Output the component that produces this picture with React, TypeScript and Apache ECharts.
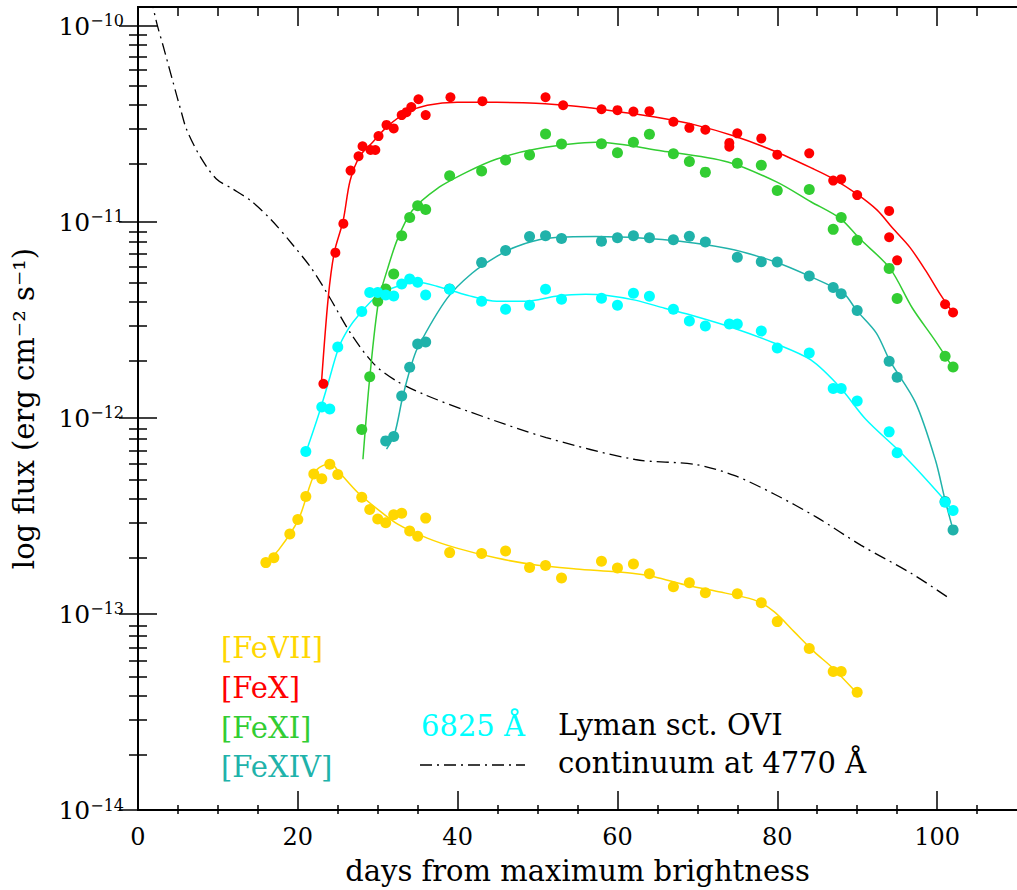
import React, { useEffect, useRef } from "react";
import * as echarts from "echarts";

const FONT = "'DejaVu Serif', 'Liberation Serif', serif";

// ---- data: days from maximum, log10 of flux (erg cm^-2 s^-1) ----
const feVIIDays = [16, 17, 19, 20, 21, 22, 23, 24, 25, 28, 29, 30, 31, 32, 33, 34, 35, 36, 39, 43, 46, 49, 51, 53, 58, 60, 62, 64, 67, 69, 71, 75, 78, 80, 84, 87, 88, 90];
const feVIILog = [-12.738, -12.713, -12.592, -12.518, -12.401, -12.286, -12.31, -12.236, -12.288, -12.405, -12.467, -12.515, -12.535, -12.494, -12.486, -12.577, -12.603, -12.511, -12.687, -12.692, -12.679, -12.763, -12.753, -12.816, -12.731, -12.765, -12.745, -12.795, -12.861, -12.841, -12.892, -12.897, -12.943, -13.039, -13.176, -13.293, -13.293, -13.399];
const feVIIFitDays = [16, 17.6, 20.1, 22.3, 24.1, 25.1, 27.5, 30, 32.5, 36.2, 39.9, 44.9, 49.8, 54.8, 59.8, 62.3, 64.7, 68.4, 72.1, 77.1, 79.6, 82.1, 84.6, 87, 90];
const feVIIFitLog = [-12.735, -12.673, -12.516, -12.268, -12.233, -12.273, -12.38, -12.466, -12.542, -12.613, -12.664, -12.715, -12.75, -12.77, -12.785, -12.795, -12.811, -12.851, -12.882, -12.928, -12.988, -13.09, -13.192, -13.278, -13.405];

const feXDays = [23.2, 24.7, 25.7, 26.6, 27.6, 28.1, 29.1, 29.7, 30.1, 31.1, 32.0, 33.0, 33.6, 34.2, 35.1, 36.0, 39.1, 43.1, 51.0, 53.2, 58, 60, 62, 64, 67, 69, 71, 74, 74, 75, 78, 80, 84, 87, 88, 90, 94, 94, 95, 101, 102];
const feXLog = [-11.826, -11.157, -11.009, -10.738, -10.665, -10.614, -10.633, -10.633, -10.562, -10.505, -10.523, -10.455, -10.44, -10.414, -10.374, -10.455, -10.364, -10.384, -10.364, -10.405, -10.425, -10.43, -10.437, -10.435, -10.489, -10.52, -10.53, -10.597, -10.616, -10.548, -10.574, -10.657, -10.65, -10.789, -10.782, -10.863, -10.944, -11.078, -11.196, -11.42, -11.462];
const feXFitDays = [22.95, 23.8, 24.56, 25.67, 26.54, 27.78, 29.39, 31.25, 33.73, 36.21, 39.93, 44.89, 49.8, 54.8, 59.7, 64.7, 69.7, 74.6, 79.6, 84.5, 87.0, 89.9, 92.5, 94.4, 96.6, 98.6, 100.4, 102.1];
const feXFitLog = [-11.826, -11.389, -11.156, -10.994, -10.79, -10.663, -10.592, -10.511, -10.44, -10.405, -10.39, -10.39, -10.394, -10.41, -10.435, -10.465, -10.505, -10.562, -10.638, -10.729, -10.78, -10.856, -10.94, -11.03, -11.13, -11.25, -11.37, -11.471];

const feXIDays = [28, 29, 30, 31, 32, 33, 34, 35, 36, 39, 43, 46, 49, 51, 53, 58, 60, 62, 64, 67, 69, 71, 75, 78, 80, 84, 87, 88, 90, 94, 95, 101, 102];
const feXILog = [-12.059, -11.79, -11.405, -11.342, -11.266, -11.07, -10.978, -10.917, -10.937, -10.765, -10.74, -10.684, -10.658, -10.552, -10.603, -10.601, -10.647, -10.594, -10.553, -10.652, -10.692, -10.746, -10.701, -10.711, -10.84, -10.835, -11.038, -10.977, -11.093, -11.237, -11.391, -11.685, -11.74];
const feXIFitDays = [28.15, 29.0, 30.1, 31.25, 32.5, 34.3, 37.4, 41.2, 44.9, 49.8, 57.3, 65.6, 73.8, 79.9, 84.2, 87.9, 90.3, 94.1, 96.9, 99.8, 102.0];
const feXIFitLog = [-12.211, -11.795, -11.405, -11.237, -11.085, -10.943, -10.831, -10.745, -10.679, -10.628, -10.594, -10.638, -10.694, -10.796, -10.897, -10.983, -11.085, -11.237, -11.439, -11.608, -11.745];

const feXIVDays = [31, 32, 33, 34, 35, 36, 39, 43, 46, 49, 51, 53, 58, 60, 62, 64, 67, 69, 71, 75, 78, 80, 84, 87, 88, 90, 94, 95, 101, 102];
const feXIVLog = [-12.117, -12.095, -11.888, -11.741, -11.623, -11.613, -11.342, -11.207, -11.146, -11.075, -11.07, -11.085, -11.098, -11.081, -11.071, -11.081, -11.091, -11.073, -11.102, -11.18, -11.203, -11.205, -11.276, -11.334, -11.366, -11.452, -11.711, -11.792, -12.426, -12.571];
const feXIVFitDays = [31.1, 32.1, 33.1, 34.1, 35.0, 38.7, 41.8, 44.9, 47.4, 51.1, 57.3, 65.6, 73.8, 79.6, 84.1, 88.3, 89.9, 92.4, 94.1, 97.3, 99.8, 101.0, 102.0];
const feXIVFitLog = [-12.159, -12.083, -11.897, -11.745, -11.642, -11.389, -11.262, -11.176, -11.125, -11.085, -11.075, -11.09, -11.136, -11.202, -11.278, -11.364, -11.45, -11.567, -11.709, -11.922, -12.216, -12.419, -12.571];

const ly6825Days = [21, 23, 24, 25, 28, 29, 30, 31, 32, 33, 34, 35, 36, 39, 43, 46, 49, 51, 53, 58, 60, 62, 64, 67, 69, 71, 74, 75, 78, 80, 84, 87, 88, 90, 94, 95, 101, 102];
const ly6825Log = [-12.171, -11.944, -11.954, -11.638, -11.457, -11.36, -11.36, -11.373, -11.378, -11.317, -11.291, -11.308, -11.373, -11.344, -11.405, -11.445, -11.425, -11.344, -11.394, -11.389, -11.425, -11.364, -11.379, -11.445, -11.506, -11.531, -11.521, -11.521, -11.557, -11.643, -11.669, -11.85, -11.85, -11.914, -12.071, -12.178, -12.43, -12.472];
const ly6825FitDays = [21.1, 22.6, 23.8, 25.1, 26.3, 27.5, 30.0, 32.5, 35.0, 37.4, 41.2, 44.9, 48.6, 52.3, 56.0, 58.5, 62.2, 65.9, 69.7, 74.6, 79.6, 84.2, 87.9, 91.1, 95.7, 100.3, 102.1];
const ly6825FitLog = [-12.166, -11.984, -11.822, -11.643, -11.547, -11.481, -11.374, -11.328, -11.308, -11.328, -11.374, -11.405, -11.405, -11.379, -11.369, -11.374, -11.399, -11.44, -11.481, -11.542, -11.618, -11.704, -11.846, -12.008, -12.186, -12.389, -12.481];

const contDays = [1.6, 2.34, 3.16, 4.4, 5.44, 6.06, 7.71, 9.78, 11.83, 14.28, 16.75, 19.23, 21.71, 23.82, 26.67, 29.6, 32.49, 35.8, 41.17, 51.08, 62.23, 69.7, 74.6, 79.6, 84.9, 90.5, 96.9, 101.6];
const contLog = [-9.85, -9.985, -10.104, -10.289, -10.442, -10.526, -10.662, -10.78, -10.831, -10.897, -10.993, -11.11, -11.237, -11.374, -11.572, -11.728, -11.815, -11.88, -11.964, -12.1, -12.212, -12.237, -12.293, -12.388, -12.506, -12.65, -12.796, -12.922];

// ---- axes ----
const X_MIN = 0;
const X_MAX = 110;
const Y_MIN = -14;
const Y_MAX = -9.9036;
const xMajorTicks = [0, 20, 40, 60, 80, 100];
const xMinorTicks = [5, 10, 15, 25, 30, 35, 45, 50, 55, 65, 70, 75, 85, 90, 95, 105];
const yDecades = [-14, -13, -12, -11, -10];
const yMinorMantissas = [2, 3, 4, 5, 6, 7, 8, 9];

const COLORS = {
  feVII: "#FFD700",
  feX: "#FF0000",
  feXI: "#32CD32",
  feXIV: "#20B2AA",
  ly: "#00FFFF",
};

const pairs = (xs: number[], ys: number[]) => xs.map((x, i) => [x, ys[i]]);

export default function App() {
  const ref = useRef<HTMLDivElement>(null);

  useEffect(() => {
    document.body.style.margin = "0";
    document.body.style.overflow = "hidden";
    if (!ref.current) return;
    const chart = echarts.init(ref.current, undefined, { renderer: "svg" });

    const yMinorTicks: number[] = [];
    yDecades.forEach((d) => {
      yMinorMantissas.forEach((m) => {
        const v = d + Math.log10(m);
        if (v < Y_MAX) yMinorTicks.push(v);
      });
    });

    const tickLine = { color: "#000", width: 1.5 };
    const gridRect = { left: 138, top: 7, width: 888, height: 807 };

    const majorX = (pos: string, gridIndex: number, main: boolean) => ({
      type: "value",
      gridIndex,
      position: pos,
      min: X_MIN,
      max: X_MAX,
      axisLine: { show: main, lineStyle: { color: "#000", width: 2 } },
      axisTick: { show: true, inside: true, length: 19, customValues: xMajorTicks, lineStyle: tickLine },
      axisLabel: main && pos === "bottom"
        ? { show: true, customValues: xMajorTicks, margin: 15, fontFamily: FONT, fontSize: 24, color: "#000" }
        : { show: false },
      splitLine: { show: false },
    });
    const minorX = (pos: string, gridIndex: number) => ({
      type: "value",
      gridIndex,
      position: pos,
      min: X_MIN,
      max: X_MAX,
      axisLine: { show: false },
      axisTick: { show: true, inside: true, length: 9, customValues: xMinorTicks, lineStyle: tickLine },
      axisLabel: { show: false },
      splitLine: { show: false },
    });
    const majorY = (pos: string, gridIndex: number, main: boolean) => ({
      type: "value",
      gridIndex,
      position: pos,
      min: Y_MIN,
      max: Y_MAX,
      axisLine: { show: main, lineStyle: { color: "#000", width: 2 } },
      axisTick: { show: true, inside: true, length: 19, customValues: yDecades, lineStyle: tickLine },
      axisLabel: main && pos === "left"
        ? {
            show: true,
            customValues: yDecades,
            margin: 14,
            formatter: (v: number) => `{b|10}{s|−${Math.round(Math.abs(v))}}`,
            rich: {
              b: { fontFamily: FONT, fontSize: 25, color: "#000", lineHeight: 26, verticalAlign: "bottom" },
              s: { fontFamily: FONT, fontSize: 16, color: "#000", lineHeight: 16, verticalAlign: "top" },
            },
          }
        : { show: false },
      splitLine: { show: false },
    });
    const minorY = (pos: string, gridIndex: number) => ({
      type: "value",
      gridIndex,
      position: pos,
      min: Y_MIN,
      max: Y_MAX,
      axisLine: { show: false },
      axisTick: { show: true, inside: true, length: 9, customValues: yMinorTicks, lineStyle: tickLine },
      axisLabel: { show: false },
      splitLine: { show: false },
    });

    const xMain: any = majorX("bottom", 0, true);
    xMain.name = "days from maximum brightness";
    xMain.nameLocation = "middle";
    xMain.nameGap = 46;
    xMain.nameTextStyle = { fontFamily: FONT, fontSize: 29, color: "#000" };
    const yMain: any = majorY("left", 0, true);
    yMain.name = "log flux (erg cm⁻² s⁻¹)";
    yMain.nameLocation = "middle";
    yMain.nameGap = 100;
    yMain.nameTextStyle = { fontFamily: FONT, fontSize: 29, color: "#000" };

    const fit = (name: string, days: number[], logs: number[], color: string) => ({
      name: name + " fit",
      type: "line",
      xAxisIndex: 0,
      yAxisIndex: 0,
      data: pairs(days, logs),
      smooth: 0.3,
      showSymbol: false,
      symbol: "none",
      lineStyle: { color, width: 1.5 },
      z: 2,
      silent: true,
    });
    const dots = (name: string, days: number[], logs: number[], color: string, size: number) => ({
      name,
      type: "scatter",
      xAxisIndex: 0,
      yAxisIndex: 0,
      data: pairs(days, logs),
      symbol: "circle",
      symbolSize: size,
      itemStyle: { color, opacity: 1 },
      z: 3,
      silent: true,
    });

    const legendX = 221;
    const legendFont = { fontFamily: FONT, fontSize: 29 };
    const textEl = (x: number, y: number, text: string, fill: string) => ({
      type: "text",
      x,
      y,
      silent: true,
      style: {
        text,
        fill,
        ...legendFont,
        textAlign: "left",
        textVerticalAlign: "middle",
        align: "left",
        verticalAlign: "middle",
      },
    });

    chart.setOption({
      animation: false,
      backgroundColor: "#fff",
      grid: [
        { ...gridRect, containLabel: false },
        { ...gridRect, containLabel: false },
      ],
      xAxis: [xMain, majorX("top", 0, true), minorX("bottom", 1), minorX("top", 1)],
      yAxis: [yMain, majorY("right", 0, true), minorY("left", 1), minorY("right", 1)],
      series: [
        {
          name: "continuum at 4770 Å",
          type: "line",
          xAxisIndex: 0,
          yAxisIndex: 0,
          data: pairs(contDays, contLog),
          smooth: 0.3,
          showSymbol: false,
          symbol: "none",
          clip: true,
          lineStyle: { color: "#000", width: 1.3, type: [12, 5, 2, 5] },
          z: 1,
          silent: true,
        },
        fit("[FeVII]", feVIIFitDays, feVIIFitLog, COLORS.feVII),
        fit("[FeX]", feXFitDays, feXFitLog, COLORS.feX),
        fit("[FeXI]", feXIFitDays, feXIFitLog, COLORS.feXI),
        fit("[FeXIV]", feXIVFitDays, feXIVFitLog, COLORS.feXIV),
        fit("6825 Å", ly6825FitDays, ly6825FitLog, COLORS.ly),
        dots("[FeVII]", feVIIDays, feVIILog, COLORS.feVII, 11),
        dots("[FeX]", feXDays, feXLog, COLORS.feX, 10),
        dots("[FeXI]", feXIDays, feXILog, COLORS.feXI, 11),
        dots("[FeXIV]", feXIVDays, feXIVLog, COLORS.feXIV, 11),
        dots("6825 Å", ly6825Days, ly6825Log, COLORS.ly, 11),
      ],
      graphic: [
        textEl(legendX, 648, "[FeVII]", COLORS.feVII),
        textEl(legendX, 688, "[FeX]", COLORS.feX),
        textEl(legendX, 728, "[FeXI]", COLORS.feXI),
        textEl(legendX, 767, "[FeXIV]", COLORS.feXIV),
        textEl(421, 726, "6825 Å", COLORS.ly),
        textEl(558, 725, "Lyman sct. OVI", "#000"),
        textEl(558, 763, "continuum at 4770 Å", "#000"),
        {
          type: "line",
          silent: true,
          shape: { x1: 420, y1: 765, x2: 525, y2: 765 },
          style: { stroke: "#000", lineWidth: 1.3, lineDash: [12, 5, 2, 5] },
        },
      ],
    });

    return () => {
      chart.dispose();
    };
  }, []);

  return <div ref={ref} style={{ width: 1017, height: 890 }} />;
}
